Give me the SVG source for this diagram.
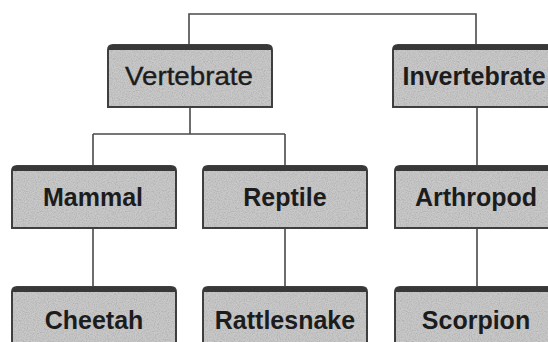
<svg xmlns="http://www.w3.org/2000/svg" width="548" height="342" viewBox="0 0 548 342">
  <style>
    .box { fill: #c8c8c8; stroke: #404040; stroke-width: 2; }
    .band { fill: #383838; }
    .grain { fill: #000; opacity: 0.11; filter: url(#speckle); }
    .lbl { font-family: "Liberation Sans", Arial, sans-serif; font-size: 25px; font-weight: bold; fill: #1c1c1c; text-anchor: middle; }
    .lbl.thin { font-weight: normal; stroke: #1c1c1c; stroke-width: 0.35; }
    .wire { fill: none; stroke: #4a4a4a; stroke-width: 1.6; }
  </style>
  <defs>
    <!-- fine stipple over the box fill -->
    <filter id="speckle" x="0" y="0" width="100%" height="100%">
      <feTurbulence type="fractalNoise" baseFrequency="0.9" numOctaves="2" seed="3" result="n"/>
      <feColorMatrix in="n" type="matrix" values="0 0 0 0 0  0 0 0 0 0  0 0 0 0 0  0 0 0 -2.2 1.35" result="a"/>
      <feComposite in="SourceGraphic" in2="a" operator="in"/>
    </filter>
    <!-- node shape: square bottom, rounded top corners -->
    <path id="shape" d="M0,62 V5 Q0,0 5,0 H159 Q164,0 164,5 V62 Z"/>
    <!-- dark strip along the top edge -->
    <path id="strip" d="M0,5 Q0,0 5,0 H159 Q164,0 164,5 H0 Z"/>
  </defs>

  <rect width="548" height="342" fill="#ffffff"/>

  <g id="connectors">
    <path class="wire" d="M189,45 V14 H476 V45"/>
    <path class="wire" d="M190,107 V134 M93,134 H285 M93,134 V165 M285,134 V165"/>
    <path class="wire" d="M93,229 V287 M285,229 V287 M477,107 V165 M477,229 V287"/>
  </g>

  <g id="vertebrate" transform="translate(108,45)">
    <use href="#shape" class="box"/>
    <use href="#shape" class="grain"/>
    <use href="#strip" class="band"/>
    <text class="lbl thin" x="81" y="40" textLength="128" lengthAdjust="spacingAndGlyphs">Vertebrate</text>
  </g>

  <g id="invertebrate" transform="translate(393,45)">
    <use href="#shape" class="box"/>
    <use href="#shape" class="grain"/>
    <use href="#strip" class="band"/>
    <text class="lbl" x="81" y="40">Invertebrate</text>
  </g>

  <g id="mammal" transform="translate(12,166)">
    <use href="#shape" class="box"/>
    <use href="#shape" class="grain"/>
    <use href="#strip" class="band"/>
    <text class="lbl" x="81" y="40">Mammal</text>
  </g>

  <g id="reptile" transform="translate(203,166)">
    <use href="#shape" class="box"/>
    <use href="#shape" class="grain"/>
    <use href="#strip" class="band"/>
    <text class="lbl" x="82" y="40">Reptile</text>
  </g>

  <g id="arthropod" transform="translate(395,166)">
    <use href="#shape" class="box"/>
    <use href="#shape" class="grain"/>
    <use href="#strip" class="band"/>
    <text class="lbl" x="81" y="40">Arthropod</text>
  </g>

  <g id="cheetah" transform="translate(12,287)">
    <use href="#shape" class="box"/>
    <use href="#shape" class="grain"/>
    <use href="#strip" class="band"/>
    <text class="lbl" x="82" y="42">Cheetah</text>
  </g>

  <g id="rattlesnake" transform="translate(203,287)">
    <use href="#shape" class="box"/>
    <use href="#shape" class="grain"/>
    <use href="#strip" class="band"/>
    <text class="lbl" x="82" y="42">Rattlesnake</text>
  </g>

  <g id="scorpion" transform="translate(395,287)">
    <use href="#shape" class="box"/>
    <use href="#shape" class="grain"/>
    <use href="#strip" class="band"/>
    <text class="lbl" x="81" y="42">Scorpion</text>
  </g>
</svg>
